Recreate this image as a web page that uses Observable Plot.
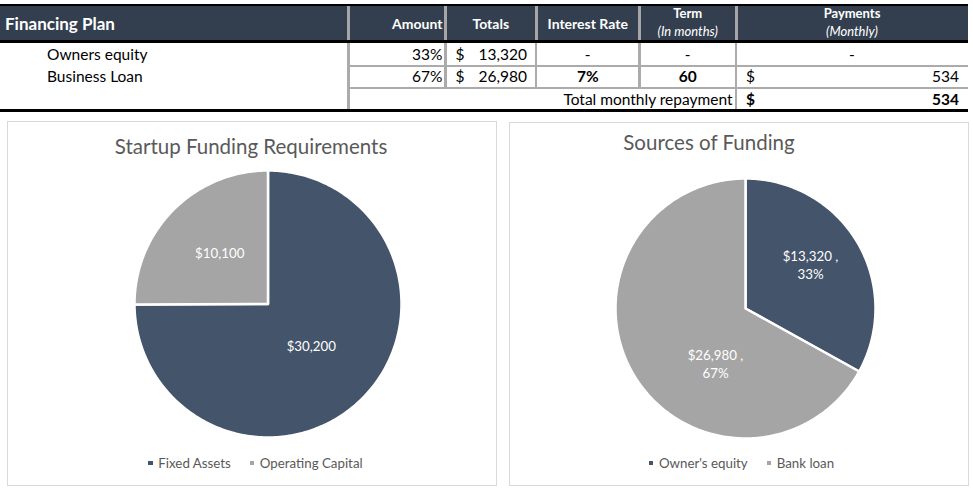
<!DOCTYPE html>
<html><head><meta charset="utf-8">
<script src="https://cdn.jsdelivr.net/npm/d3@7"></script>
<script src="https://cdn.jsdelivr.net/npm/@observablehq/plot@0.6"></script>
<style>
body{margin:0;background:#fff;font-family:Lato,"Open Sans",sans-serif;}
#root{position:relative;width:973px;height:492px;overflow:hidden;background:#fff;}
.abs{position:absolute;box-sizing:border-box;}
.cell{position:absolute;display:flex;align-items:center;box-sizing:border-box;white-space:nowrap;color:#000;font-size:15.5px;}
</style></head><body><div id="root"></div>
<script>
// ---- data ----
const planHeaders = ["Financing Plan", "Amount", "Totals", "Interest Rate", "Term", "Payments"];
const planSubHeaders = ["", "", "", "", "(In months)", "(Monthly)"];
const planRows = ["Owners equity", "Business Loan"];
const planShares = ["33%", "67%"];
const planTotals = [13320, 26980];
const planRates = ["-", "7%"];
const planTerms = ["-", "60"];
const planPayments = [null, 534];
const totalLabel = "Total monthly repayment";
const totalPayment = 534;

const reqTitle = "Startup Funding Requirements";
const reqCategories = ["Fixed Assets", "Operating Capital"];
const reqValues = [30200, 10100];

const srcTitle = "Sources of Funding";
const srcCategories = ["Owner's equity", "Bank loan"];
const srcValues = [13320, 26980];

const sliceColors = ["#44546a", "#a5a5a5"];

// ---- helpers ----
const root = document.getElementById("root");
function box(x, y, w, h, style = {}) {
  const d = document.createElement("div");
  d.className = "abs";
  Object.assign(d.style, {left: x + "px", top: y + "px", width: w + "px", height: h + "px"}, style);
  root.appendChild(d);
  return d;
}
function cell(x, y, w, h, html, style = {}) {
  const d = box(x, y, w, h, style);
  d.className = "cell";
  d.innerHTML = html;
  return d;
}
const fmt = d3.format(",");

// ---- table ----
const cols = [0, 348.5, 445.5, 536, 639.5, 736, 968];
const hdrTop = 6, hdrBot = 40, r1 = 43, r2 = 65.5, r3 = 88, tblBot = 109;
box(0, 4, 968, 2.5, {background: "#000"});
box(0, hdrTop, 968, hdrBot - hdrTop, {background: "#333f4f"});
box(0, hdrBot, 968, 3, {background: "#000"});
box(0, tblBot, 968, 2.5, {background: "#000"});
for (let i = 1; i < 6; i++) box(cols[i] - 1.5, hdrTop, 3, hdrBot - hdrTop, {background: "#a6a6a6"});
const grid = "#ababab";
box(cols[1], 64.5, cols[6] - cols[1], 2, {background: grid});
box(cols[1], 86.8, cols[6] - cols[1], 2, {background: grid});
box(cols[1] - 1.5, r1, 2.5, tblBot - r1, {background: grid});
box(cols[5] - 1.2, r1, 2.5, tblBot - r1, {background: grid});
for (const i of [2, 3, 4]) box(cols[i] - 1.2, r1, 2.5, r3 - r1, {background: grid});

const hdrStyle = {color: "#fff", fontWeight: "bold", fontSize: "14px"};
cell(5, hdrTop, 300, hdrBot - hdrTop, planHeaders[0], {...hdrStyle, fontSize: "17px"});
cell(cols[1], hdrTop, cols[2] - cols[1] - 3, hdrBot - hdrTop, planHeaders[1], {...hdrStyle, justifyContent: "flex-end"});
for (let i = 2; i < 6; i++) {
  const sub = planSubHeaders[i];
  const html = sub
    ? `<div style="line-height:13px;margin-top:-5px">${planHeaders[i]}</div><div style="font-weight:normal;font-style:italic;line-height:13px;margin-top:5px">${sub}</div>`
    : planHeaders[i];
  cell(cols[i], hdrTop, cols[i + 1] - cols[i], hdrBot - hdrTop, html,
    {...hdrStyle, fontSize: sub ? "13px" : "14px", justifyContent: "center", flexDirection: sub ? "column" : "row", alignItems: "center", paddingTop: sub ? "4px" : "0px"});
}
const rowTops = [r1, r2];
const rowH = 21.5;
planRows.forEach((name, i) => {
  const y = rowTops[i];
  cell(47, y, 290, rowH, name);
  cell(cols[1], y, cols[2] - cols[1] - 3, rowH, planShares[i], {justifyContent: "flex-end"});
  cell(cols[2] + 10, y, 20, rowH, "$");
  cell(cols[2], y, cols[3] - cols[2] - 9, rowH, fmt(planTotals[i]), {justifyContent: "flex-end"});
  cell(cols[3], y, cols[4] - cols[3], rowH, planRates[i], {justifyContent: "center", fontWeight: i ? "bold" : "normal"});
  cell(cols[4], y, cols[5] - cols[4], rowH, planTerms[i], {justifyContent: "center", fontWeight: i ? "bold" : "normal"});
  if (planPayments[i] == null) {
    cell(cols[5], y, cols[6] - cols[5], rowH, "-", {justifyContent: "center"});
  } else {
    cell(cols[5] + 10, y, 20, rowH, "$");
    cell(cols[5], y, cols[6] - cols[5] - 9, rowH, fmt(planPayments[i]), {justifyContent: "flex-end"});
  }
});
cell(cols[1], r3, cols[5] - cols[1] - 3.5, rowH, totalLabel, {justifyContent: "flex-end"});
cell(cols[5] + 10, r3, 20, rowH, "$", {fontWeight: "bold"});
cell(cols[5], r3, cols[6] - cols[5] - 9, rowH, fmt(totalPayment), {justifyContent: "flex-end", fontWeight: "bold"});

// ---- pies ----
function drawPanel({x, y, w, h}) {
  box(x, y, w, h, {border: "1px solid #d9d9d9", background: "#fff"});
}
function drawTitle(text, cx, baseline) {
  const d = box(cx - 200, baseline - 18, 400, 21, {fontSize: "20.5px", lineHeight: "21px", color: "#595959", textAlign: "center", whiteSpace: "nowrap"});
  d.textContent = text;
}
function drawLegend(cats, cx, cy) {
  const d = box(cx - 200, cy - 9, 400, 18, {display: "flex", justifyContent: "center", alignItems: "center", gap: "19px", fontSize: "13.3px", color: "#595959", whiteSpace: "nowrap"});
  cats.forEach((c, i) => {
    const it = document.createElement("div");
    it.style.cssText = "display:flex;align-items:center;";
    it.innerHTML = `<span style="display:inline-block;width:4.5px;height:4.5px;background:${sliceColors[i]};margin-right:5.5px"></span>${c.replace(/'/g, "&#39;")}`;
    d.appendChild(it);
  });
}
function drawPie({cats, vals, cx, cy, r, labelText, frac, nudges}) {
  const total = d3.sum(vals);
  const arcs = d3.pie().sort(null).value(d => d)(vals);
  const pts = [];
  arcs.forEach((a, i) => {
    const n = Math.max(4, Math.ceil((a.endAngle - a.startAngle) * 180 / Math.PI));
    pts.push({cat: cats[i], x: 0, y: 0});
    for (let k = 0; k <= n; k++) {
      const t = a.startAngle + (a.endAngle - a.startAngle) * k / n;
      pts.push({cat: cats[i], x: Math.sin(t), y: Math.cos(t)});
    }
  });
  const labels = arcs.map((a, i) => {
    const m = (a.startAngle + a.endAngle) / 2;
    return {cat: cats[i], x: frac * Math.sin(m), y: frac * Math.cos(m), text: labelText(vals[i], vals[i] / total)};
  });
  const pad = 3, W = 2 * r + 2 * pad;
  const svg = Plot.plot({
    width: W, height: W, margin: pad,
    style: {background: "transparent", overflow: "visible", fontFamily: "Lato, sans-serif"},
    x: {domain: [-1, 1], axis: null},
    y: {domain: [-1, 1], axis: null},
    color: {domain: cats, range: sliceColors},
    marks: [
      Plot.line(pts, {x: "x", y: "y", z: "cat", fill: "cat", stroke: "#fff", strokeWidth: 2.5, strokeLinejoin: "round", curve: "linear-closed"}),
      ...labels.map((l, i) => Plot.text([l], {x: "x", y: "y", text: "text", fill: "#fff", fontSize: 13.3, lineHeight: 1.3, dx: nudges[i][0], dy: nudges[i][1]}))
    ]
  });
  svg.style.position = "absolute";
  svg.style.left = (cx - W / 2) + "px";
  svg.style.top = (cy - W / 2) + "px";
  root.appendChild(svg);
}

drawPanel({x: 7, y: 121, w: 490, h: 365});
drawTitle(reqTitle, 251, 154);
drawPie({cats: reqCategories, vals: reqValues, cx: 267, cy: 303.5, r: 133.5, frac: 0.5,
  labelText: v => "$" + fmt(v), nudges: [[-4, -6], [-1, -4]]});
drawLegend(reqCategories, 255.5, 463);

drawPanel({x: 509, y: 122, w: 460, h: 364});
drawTitle(srcTitle, 709, 150);
drawPie({cats: srcCategories, vals: srcValues, cx: 745, cy: 308, r: 130, frac: 0.5,
  labelText: (v, p) => "$" + fmt(v) + " ,\n" + Math.round(p * 100) + "%", nudges: [[9, -11], [26, 22]]});
drawLegend(srcCategories, 741.5, 463);
</script></body></html>
